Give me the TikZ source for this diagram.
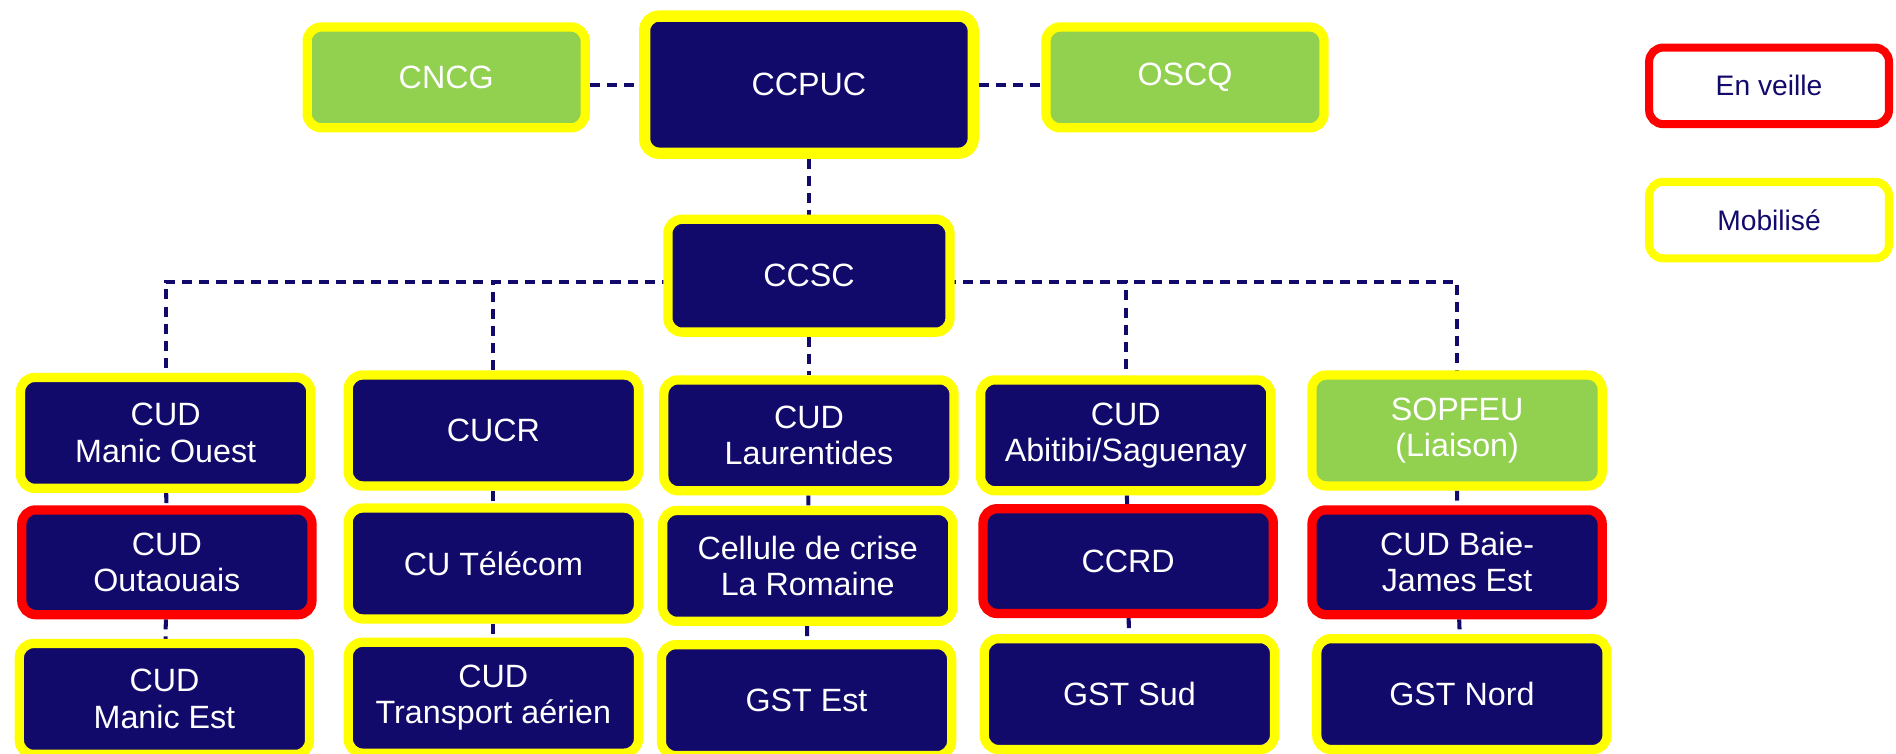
\documentclass[tikz,border=0pt]{standalone}
\usepackage{fontspec}
\setmainfont{Liberation Sans}
\usetikzlibrary{backgrounds}

\begin{document}
\begin{tikzpicture}[x=0.6pt,y=-0.6pt,
  box/.style={rounded corners=7pt,line width=4.6pt,fill=marine,text=white,
    align=center,inner sep=1pt,font=\fontsize{16}{18}\selectfont,
    minimum width=144pt,minimum height=55pt},
  mobil/.style={box,draw=gelb},
  veille/.style={box,draw=rot},
  liaison/.style={fill=gruen},
  legende/.style={box,fill=white,text=marine,line width=4pt,
    font=\fontsize{14}{16}\selectfont,minimum width=119pt,minimum height=38pt},
  lien/.style={draw=marine,line width=2pt,dash pattern=on 5pt off 3.5pt}]

\definecolor{marine}{RGB}{18,10,107}
\definecolor{gelb}{RGB}{255,255,0}
\definecolor{rot}{RGB}{255,0,0}
\definecolor{gruen}{RGB}{146,208,80}

\useasboundingbox (0,0) rectangle (1568,623);

% oben
\node[mobil,minimum width=163pt,minimum height=68pt,line width=5.6pt] (ccpuc) at (669,70) {CCPUC};
\node[mobil,liaison,minimum width=138pt,minimum height=50pt] (cncg) at (369,64) {CNCG};
\node[mobil,liaison,minimum width=138pt,minimum height=50pt] (oscq) at (980,64) {OSCQ};
\node[mobil,minimum width=140pt,minimum height=56pt] (ccsc) at (669,228) {CCSC};
\coordinate (ast) at (669,233);

% legende
\node[legende,draw=rot]  (legveille) at (1463,71)  {En veille};
\node[legende,draw=gelb] (legmobil)  at (1463,182) {Mobilisé};

% erste reihe
\node[mobil] (manicouest)  at (137,358)  {CUD\\Manic Ouest};
\node[mobil] (cucr)        at (408,356)  {CUCR};
\node[mobil] (laurentides) at (669,360)  {CUD\\Laurentides};
\node[mobil] (abitibi)     at (931,360)  {CUD\\Abitibi/Saguenay};
\node[mobil,liaison] (sopfeu) at (1205,356) {SOPFEU\\(Liaison)};

% zweite reihe
\node[veille,minimum height=52pt] (outaouais) at (138,465) {CUD\\Outaouais};
\node[mobil,minimum height=55pt]  (telecom)   at (408,466) {CU Télécom};
\node[mobil,minimum height=55pt]  (cellule)   at (668,468) {Cellule de crise\\La Romaine};
\node[veille,minimum height=52pt]  (ccrd)      at (933,464) {CCRD};
\node[veille,minimum height=52pt]  (baiejames) at (1205,465) {CUD Baie-\\James Est};

% dritte reihe
\node[mobil] (manicest)  at (136,578)  {CUD\\Manic Est};
\node[mobil] (transport) at (408,577)  {CUD\\Transport aérien};
\node[mobil] (gstest)    at (667,579)  {GST Est};
\node[mobil] (gstsud)    at (934,574)  {GST Sud};
\node[mobil] (gstnord)   at (1209,574) {GST Nord};

\begin{scope}[on background layer]
\draw[lien] (cncg.east |- ccpuc) -- (ccpuc) -- (oscq.west |- ccpuc);
\draw[lien] (ccpuc) -- (ccsc);
\draw[lien] (ast) -| (manicouest);
\draw[lien] (ast) -| (cucr);
\draw[lien] (ccsc) -- (laurentides);
\draw[lien] (ast) -| (abitibi);
\draw[lien] (ast) -| (sopfeu);
\foreach \a/\b/\c in {manicouest/outaouais/manicest,cucr/telecom/transport,
    laurentides/cellule/gstest,abitibi/ccrd/gstsud,sopfeu/baiejames/gstnord}{
	\draw[lien] (\a) -- (\b) -- (\c);
}
\end{scope}

\end{tikzpicture}
\end{document}
